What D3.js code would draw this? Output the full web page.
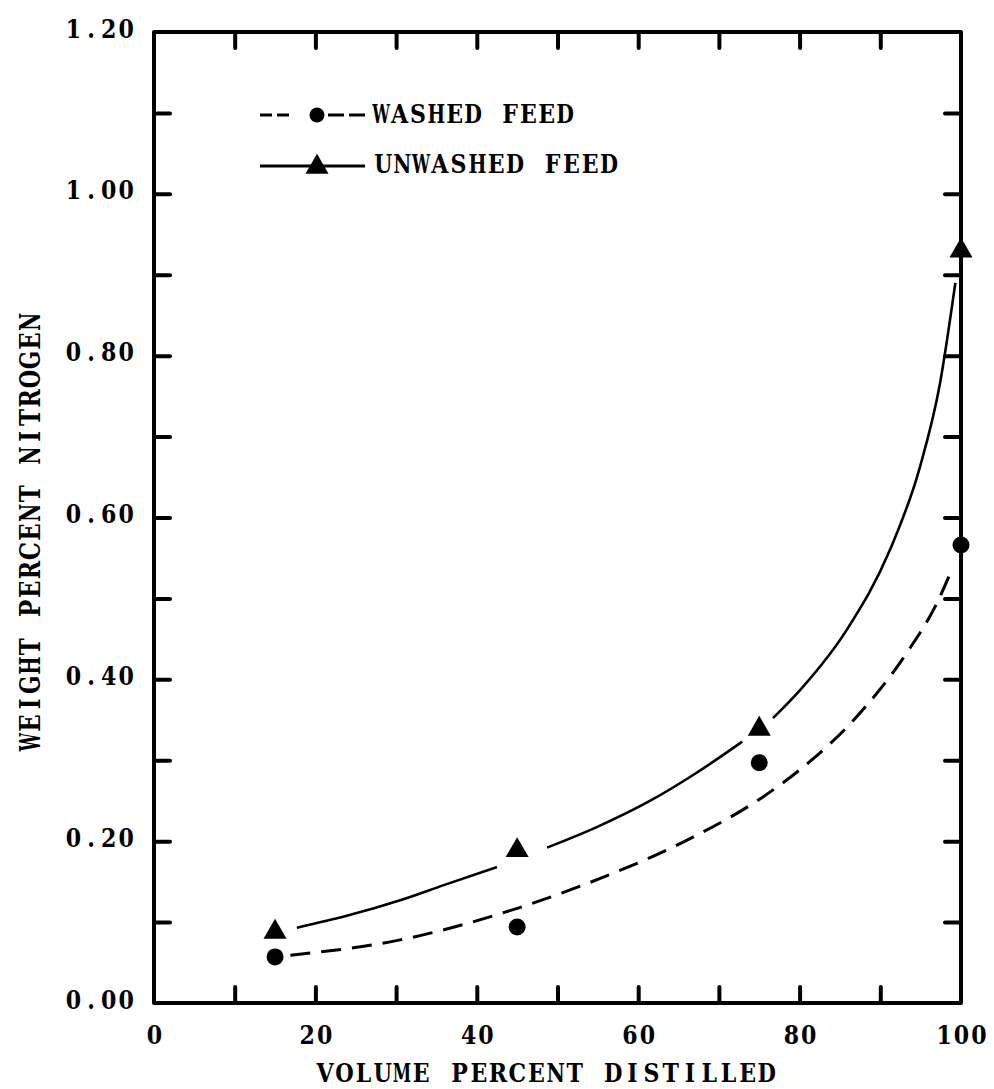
<!DOCTYPE html>
<html><head><meta charset="utf-8">
<script src="https://cdn.jsdelivr.net/npm/d3@7"></script>
<style>
body{margin:0;background:#fff}
svg text{font-family:"DejaVu Serif","Liberation Serif",serif;font-weight:bold;fill:#000}
</style>
</head><body>
<svg id="c" width="994" height="1089"></svg>
<script>
// ---- data ----
const seriesNames = ["WASHED FEED", "UNWASHED FEED"];
const pointX = [15, 45, 75, 100];
const washedY = [0.057, 0.094, 0.297, 0.566];
const unwashedY = [0.090, 0.191, 0.341, 0.932];
// traced fitted curves (null = break in the drawn line)
const washedCurve = [[16.9,0.059],[30.5,0.078],[45,0.117],[55.3,0.154],[66,0.201],[75.5,0.255],[80,0.288],[87.1,0.354],[93.3,0.433],[97.0,0.494],[99.0,0.539]];
const unwashedCurve = [[17.7,0.093],[24,0.108],[30.5,0.127],[36,0.146],[42.5,0.168],null,[48.7,0.192],[55,0.218],[61.5,0.250],[67,0.283],[72.9,0.323],null,[76.7,0.352],[80,0.386],[85.9,0.462],[91.2,0.56],[94.9,0.662],[97.4,0.766],[99.3,0.89]];
const xTickValues = [10,20,30,40,50,60,70,80,90];
const xLabelValues = [0,20,40,60,80,100];
const yTickValues = [0.1,0.2,0.3,0.4,0.5,0.6,0.7,0.8,0.9,1.0,1.1];
const yLabelValues = [0,0.2,0.4,0.6,0.8,1.0,1.2];
const xTitle = "VOLUME PERCENT DISTILLED";
const yTitle = "WEIGHT PERCENT NITROGEN";

// ---- layout ----
const svg = d3.select("#c");
const L = 154, R = 961, T = 32, B = 1003;
const x = d3.scaleLinear().domain([0,100]).range([L,R]);
const y = d3.scaleLinear().domain([0,1.2]).range([B,T]);
const TK = 16;
const SX = 0.85; // horizontal condensing of the serif face to imitate typewriter pitch

// typewriter-like fixed pitch: whole text condensed horizontally, each character in its own cell,
// any glyph still wider than its cell squeezed to fit
function mono(textSel, adv){
  textSel.each(function(){
    const t = d3.select(this);
    const s = t.text();
    const anchor = t.attr("text-anchor") || "start";
    const ax = +(t.attr("x") || 0);
    const n = s.length;
    const start = anchor === "end" ? ax - n*adv : anchor === "middle" ? ax - n*adv/2 : ax;
    t.text(null).attr("transform", `translate(${ax*(1-SX)},0) scale(${SX},1)`);
    const maxW = adv*0.96/SX;
    for (let i=0;i<n;i++){
      const X = start + i*adv + adv/2;
      const ts = t.append("tspan").attr("x", ax + (X-ax)/SX).attr("text-anchor","middle").text(s[i]);
      const w = ts.node().getComputedTextLength();
      if (s[i] !== " " && w > maxW) ts.attr("textLength", maxW).attr("lengthAdjust","spacingAndGlyphs");
    }
  });
}

function styleTicks(g){
  g.select(".domain").remove();
  g.selectAll(".tick line").attr("stroke","#000").attr("stroke-width",4).attr("stroke-linecap","round");
}
svg.append("g").attr("transform",`translate(0,${B})`)
  .call(d3.axisBottom(x).tickValues(xTickValues).tickSize(-TK).tickFormat("")).call(styleTicks);
svg.append("g").attr("transform",`translate(0,${T})`)
  .call(d3.axisTop(x).tickValues(xTickValues).tickSize(-TK).tickFormat("")).call(styleTicks);
svg.append("g").attr("transform",`translate(${L},0)`)
  .call(d3.axisLeft(y).tickValues(yTickValues).tickSize(-TK).tickFormat("")).call(styleTicks);
svg.append("g").attr("transform",`translate(${R},0)`)
  .call(d3.axisRight(y).tickValues(yTickValues).tickSize(-TK).tickFormat("")).call(styleTicks);

// tick labels
const gxl = svg.append("g").attr("transform",`translate(0,${B})`)
  .call(d3.axisBottom(x).tickValues(xLabelValues).tickSize(0).tickPadding(0).tickFormat(d3.format("d")));
gxl.select(".domain").remove();
gxl.selectAll("text").attr("dy",null).attr("y",41).attr("x",0).attr("text-anchor","middle")
  .attr("font-size",26).attr("font-family",null).attr("fill","#000").call(mono,17.4);

const gyl = svg.append("g").attr("transform",`translate(${L},0)`)
  .call(d3.axisLeft(y).tickValues(yLabelValues).tickSize(0).tickPadding(0).tickFormat(d3.format(".2f")));
gyl.select(".domain").remove();
gyl.selectAll("text").attr("dy",null).attr("x",-19).attr("y",5).attr("text-anchor","end")
  .attr("font-size",26).attr("font-family",null).attr("fill","#000").call(mono,17.6);

// frame
svg.append("rect").attr("x",L).attr("y",T).attr("width",R-L).attr("height",B-T)
  .attr("fill","none").attr("stroke","#000").attr("stroke-width",4).attr("stroke-linejoin","round");

// axis titles
svg.append("text").attr("x",(315+777)/2).attr("y",1082).attr("text-anchor","middle")
  .attr("font-size",26).text(xTitle).call(mono,19.2);
svg.append("g").attr("transform",`translate(40,${532}) rotate(-90)`)
  .append("text").attr("x",0).attr("y",0).attr("text-anchor","middle")
  .attr("font-size",27).text(yTitle).call(mono,19.1);

// fitted curves
const line = d3.line().defined(d => d !== null).x(d => x(d[0])).y(d => y(d[1])).curve(d3.curveMonotoneX);
svg.append("path").attr("d", line(washedCurve)).attr("fill","none").attr("stroke","#000")
  .attr("stroke-width",3).attr("stroke-dasharray","20,11");
svg.append("path").attr("d", line(unwashedCurve)).attr("fill","none").attr("stroke","#000")
  .attr("stroke-width",2.6);

// markers
const tri = d3.symbol().type(d3.symbolTriangle).size(230);
svg.append("g").selectAll("circle").data(pointX).join("circle")
  .attr("cx", d => x(d)).attr("cy", (d,i) => y(washedY[i])).attr("r", 8.5).attr("fill","#000");
svg.append("g").selectAll("path").data(pointX).join("path")
  .attr("d", tri).attr("transform", (d,i) => `translate(${x(d)},${y(unwashedY[i])+2})`).attr("fill","#000");

// legend
const lg = svg.append("g");
lg.append("line").attr("x1",260).attr("x2",290).attr("y1",115).attr("y2",115)
  .attr("stroke","#000").attr("stroke-width",3).attr("stroke-dasharray","12,5");
lg.append("line").attr("x1",328).attr("x2",369).attr("y1",115).attr("y2",115)
  .attr("stroke","#000").attr("stroke-width",3).attr("stroke-dasharray","16,5");
lg.append("circle").attr("cx",317).attr("cy",115).attr("r",7.5).attr("fill","#000");
lg.append("text").attr("x",372).attr("y",123).attr("font-size",26).text(seriesNames[0]).call(mono,18.4);

lg.append("line").attr("x1",260).attr("x2",365).attr("y1",166).attr("y2",166)
  .attr("stroke","#000").attr("stroke-width",3);
lg.append("path").attr("d",tri).attr("transform","translate(317,167)").attr("fill","#000");
lg.append("text").attr("x",374).attr("y",173).attr("font-size",26).text(seriesNames[1]).call(mono,18.8);
</script>
</body></html>
